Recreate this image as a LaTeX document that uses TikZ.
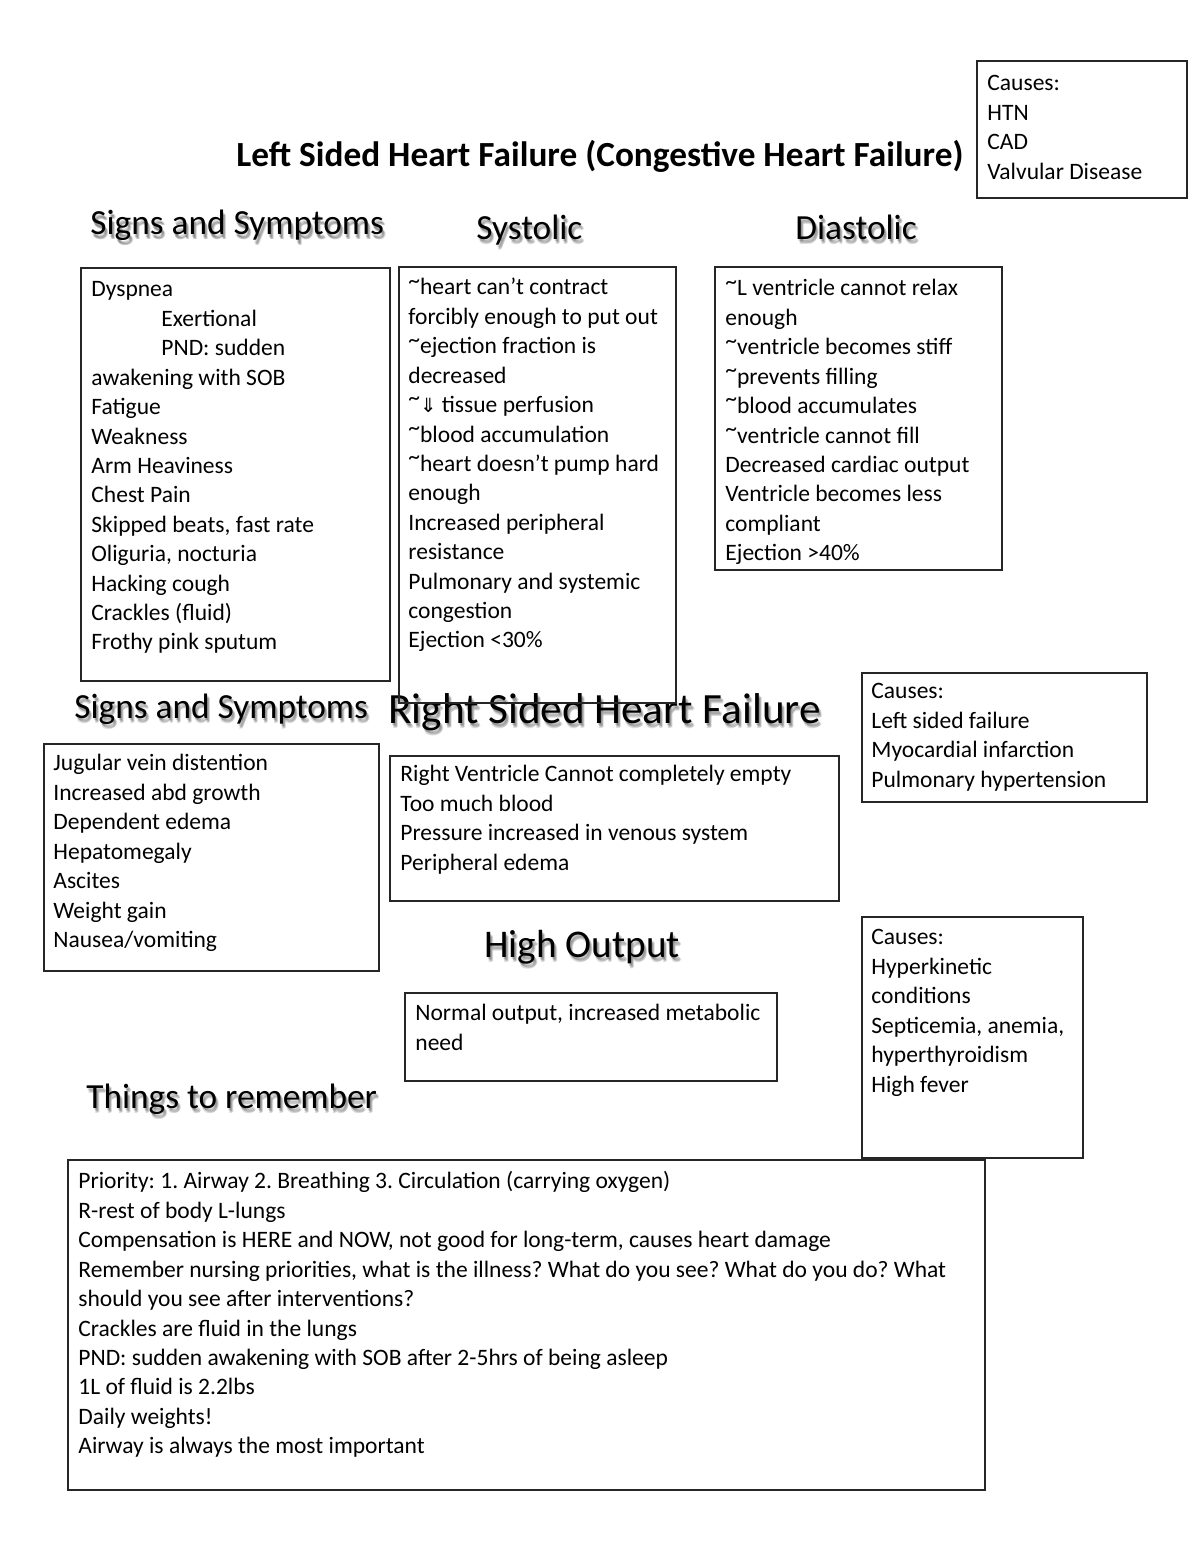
\documentclass[tikz,border=0pt]{standalone}
\usepackage{fontspec}
\setmainfont{Carlito}
\newfontfamily\arrowfont{DejaVu Sans}
\usepackage{tikz}
\usetikzlibrary{fit}
\frenchspacing
\tikzstyle{box} = [rectangle, draw=black!85, line width=0.6pt, inner sep=0pt]
\tikzstyle{txt} = [anchor=north west, inner sep=0pt, align=left, font=\fontsize{12}{15}\selectfont]
\tikzstyle{head} = [anchor=base west, inner sep=0pt, text=black]
\tikzstyle{headshadow} = [anchor=base west, inner sep=0pt, text=black, opacity=0.13]
\newcommand{\bigfont}{\fontsize{18}{22}\selectfont}
\newcommand{\largerfont}{\fontsize{20}{24}\selectfont}
\newcommand{\hugefont}{\fontsize{22}{26}\selectfont}
% heading text with a soft drop shadow: name, x,y, font, text
\newcommand{\headnode}[4]{%
  \foreach \dx/\dy in {1/2,2/3,3/4,2/5}
    \node[headshadow, font=#3] (#1-sh\dx\dy) at ([shift={(\dx,\dy)}]#2) {#4};
  \node[head, font=#3] (#1) at (#2) {#4};
}
\newcommand{\tl}{\raisebox{0.6ex}{\textasciitilde}}

\begin{document}
\begin{tikzpicture}[x=0.51pt, y=-0.51pt]
  \useasboundingbox[fill=white] (0,0) rectangle (1200,1553);

  % Title and headings
  \node[head, font=\bigfont\bfseries] (title) at (236,167) {Left Sided Heart Failure (Congestive Heart Failure)};
  \headnode{sshead}{90,235}{\bigfont}{Signs and Symptoms}
  \headnode{syshead}{476,240}{\bigfont}{Systolic}
  \headnode{diahead}{795,240}{\bigfont}{Diastolic}
  \headnode{rsshead}{74,718}{\bigfont}{Signs and Symptoms}
  \headnode{rhfhead}{388,723}{\hugefont}{Right Sided Heart Failure}
  \headnode{hohead}{484,957}{\largerfont}{High Output}
  \headnode{remhead}{86,1108}{\bigfont}{Things to remember}

  % Left sided failure
  \node[box, fit={(977,61) (1187,198)}] (lcausebox) {};
  \node[txt] (lcause) at (987,70) {\strut Causes:\\HTN\\CAD\\Valvular Disease};

  \node[box, fit={(81,268) (390,681)}] (ssbox) {};
  \node[txt] (ss) at (91,276) {\strut Dyspnea\\
    \hspace*{35.7pt}Exertional\\
    \hspace*{35.7pt}PND: sudden\\
    awakening with SOB\\Fatigue\\Weakness\\Arm Heaviness\\Chest Pain\\
    Skipped beats, fast rate\\Oliguria, nocturia\\Hacking cough\\
    Crackles (fluid)\\Frothy pink sputum};

  \node[box, fit={(399,267) (676,703)}] (sysbox) {};
  \node[txt] (sys) at (408,274) {\strut\tl heart can’t contract\\
    forcibly enough to put out\\
    \tl ejection fraction is\\decreased\\
    \tl{\arrowfont\fontsize{10}{15}\selectfont ⇓} tissue perfusion\\
    \tl blood accumulation\\
    \tl heart doesn’t pump hard\\enough\\
    Increased peripheral\\resistance\\
    Pulmonary and systemic\\congestion\\
    Ejection <30\%};

  \node[box, fit={(715,267) (1002,570)}] (diabox) {};
  \node[txt] (dia) at (725,275) {\strut\tl L ventricle cannot relax\\enough\\
    \tl ventricle becomes stiff\\
    \tl prevents filling\\
    \tl blood accumulates\\
    \tl ventricle cannot fill\\
    Decreased cardiac output\\
    Ventricle becomes less\\compliant\\
    Ejection >40\%};

  % Right sided failure
  \node[box, fit={(862,673) (1147,802)}] (rcausebox) {};
  \node[txt] (rcause) at (871,678) {\strut Causes:\\Left sided failure\\Myocardial infarction\\Pulmonary hypertension};

  \node[box, fit={(44,744) (379,971)}] (rssbox) {};
  \node[txt] (rss) at (53,750) {\strut Jugular vein distention\\Increased abd growth\\
    Dependent edema\\Hepatomegaly\\Ascites\\Weight gain\\Nausea/vomiting};

  \node[box, fit={(390,756) (839,901)}] (rhfbox) {};
  \node[txt] (rhf) at (400,761) {\strut Right Ventricle Cannot completely empty\\
    Too much blood\\Pressure increased in venous system\\Peripheral edema};

  % High output failure
  \node[box, fit={(862,917) (1083,1158)}] (hcausebox) {};
  \node[txt] (hcause) at (871,924) {\strut Causes:\\Hyperkinetic\\conditions\\
    Septicemia, anemia,\\hyperthyroidism\\High fever};

  \node[box, fit={(405,993) (777,1081)}] (hobox) {};
  \node[txt] (ho) at (415,1000) {\strut Normal output, increased metabolic\\need};

  % Things to remember
  \node[box, fit={(68,1160) (985,1490)}] (rembox) {};
  \node[txt] (rem) at (78,1168) {\strut Priority: 1. Airway 2. Breathing 3. Circulation (carrying oxygen)\\
    R-rest of body L-lungs\\
    Compensation is HERE and NOW, not good for long-term, causes heart damage\\
    Remember nursing priorities, what is the illness? What do you see? What do you do? What\\
    should you see after interventions?\\
    Crackles are fluid in the lungs\\
    PND: sudden awakening with SOB after 2-5hrs of being asleep\\
    1L of fluid is 2.2lbs\\
    Daily weights!\\
    Airway is always the most important};
\end{tikzpicture}
\end{document}
